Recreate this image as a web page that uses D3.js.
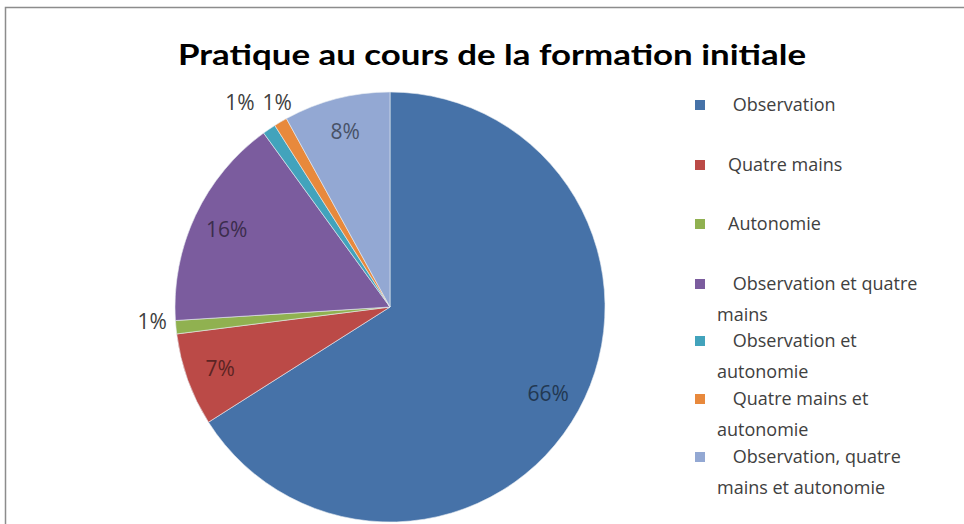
<!DOCTYPE html>
<html>
<head>
<meta charset="utf-8">
<script src="https://cdn.jsdelivr.net/npm/d3@7"></script>
<style>
  body { margin: 0; background: #fff; }
  svg { display: block; font-family: "Open Sans", "Noto Sans", sans-serif; }
</style>
</head>
<body>
<svg id="chart" width="964" height="524"></svg>
<script>
// Data
const categories = [
  'Observation',
  'Quatre mains',
  'Autonomie',
  'Observation et quatre mains',
  'Observation et autonomie',
  'Quatre mains et autonomie',
  'Observation, quatre mains et autonomie'
];
const values = [66, 7, 1, 16, 1, 1, 8];
const colors = ['#4672a8', '#bb4a47', '#90b150', '#7b5c9e', '#42a3bc', '#e8893c', '#93a8d3'];
// legend lines (wrapped as in the original)
const legendLines = [
  [' Observation'],
  ['Quatre mains'],
  ['Autonomie'],
  [' Observation et quatre', 'mains'],
  [' Observation et', 'autonomie'],
  [' Quatre mains et', 'autonomie'],
  [' Observation, quatre', 'mains et autonomie']
];

const svg = d3.select('#chart');

// frame
svg.append('path')
  .attr('d', 'M5.5,524 L5.5,7.5 L964,7.5')
  .attr('fill', 'none')
  .attr('stroke', '#8c8c8c')
  .attr('stroke-width', 1.5);

// Title
svg.append('text')
  .attr('x', 492)
  .attr('y', 65)
  .attr('text-anchor', 'middle')
  .attr('font-family', 'Lato, "Open Sans", sans-serif')
  .attr('font-size', 29)
  .attr('font-weight', 'bold')
  .attr('fill', '#000')
  .attr('textLength', 628)
  .attr('lengthAdjust', 'spacingAndGlyphs')
  .text('Pratique au cours de la formation initiale');

// Pie
const cx = 390, cy = 307, radius = 215;
const pie = d3.pie().sort(null).value(d => d);
const arcs = pie(values);
const arc = d3.arc().innerRadius(0).outerRadius(radius);

const g = svg.append('g').attr('transform', `translate(${cx},${cy})`);

g.selectAll('path.slice')
  .data(arcs)
  .enter().append('path')
  .attr('class', 'slice')
  .attr('d', arc)
  .attr('fill', (d, i) => colors[i])
  .attr('stroke', '#e8ecf2')
  .attr('stroke-width', 0.6);

// Labels: inside for the big slices, outside for the tiny ones
const inner = d3.arc().innerRadius(radius * 0.84).outerRadius(radius * 0.84);
const outer = d3.arc().innerRadius(radius * 1.12).outerRadius(radius * 1.12);

const labels = arcs.map((d, i) => {
  if (values[i] > 1) {
    return { p: inner.centroid(d), anchor: 'middle', fill: d3.color(colors[i]).darker(2).formatHex(), v: d.data };
  }
  const p = outer.centroid(d);
  const mid = (d.startAngle + d.endAngle) / 2;
  // tiny slices near the top: spread the pair apart, one left, one right
  if (mid > Math.PI * 1.6) {
    const left = i === 4;
    return { p: [p[0] + (left ? 0 : -5), -radius * 0.95], anchor: left ? 'end' : 'start', fill: '#404040', v: d.data };
  }
  return { p: [p[0] + 2, p[1] - 8], anchor: 'middle', fill: '#404040', v: d.data };
});

g.selectAll('text.pct')
  .data(labels)
  .enter().append('text')
  .attr('class', 'pct')
  .attr('x', d => d.p[0])
  .attr('y', d => d.p[1])
  .attr('dy', '0.35em')
  .attr('text-anchor', d => d.anchor)
  .attr('font-size', 21)
  .attr('fill', d => d.fill)
  .text(d => d.v + '%');

// Legend
const legendY = [105, 165, 224, 284, 341, 399, 457];
const legend = svg.append('g');
categories.forEach((c, i) => {
  const row = legend.append('g');
  row.append('rect')
    .attr('x', 695)
    .attr('y', legendY[i] - 5)
    .attr('width', 10)
    .attr('height', 10)
    .attr('fill', colors[i]);
  const t = row.append('text')
    .attr('font-size', 18)
    .attr('fill', '#404040');
  legendLines[i].forEach((line, j) => {
    t.append('tspan')
      .attr('x', j === 0 ? 728 : 717)
      .attr('y', legendY[i] + j * 31)
      .attr('dy', '0.35em')
      .style('white-space', 'pre')
      .text(line);
  });
});
</script>
</body>
</html>
